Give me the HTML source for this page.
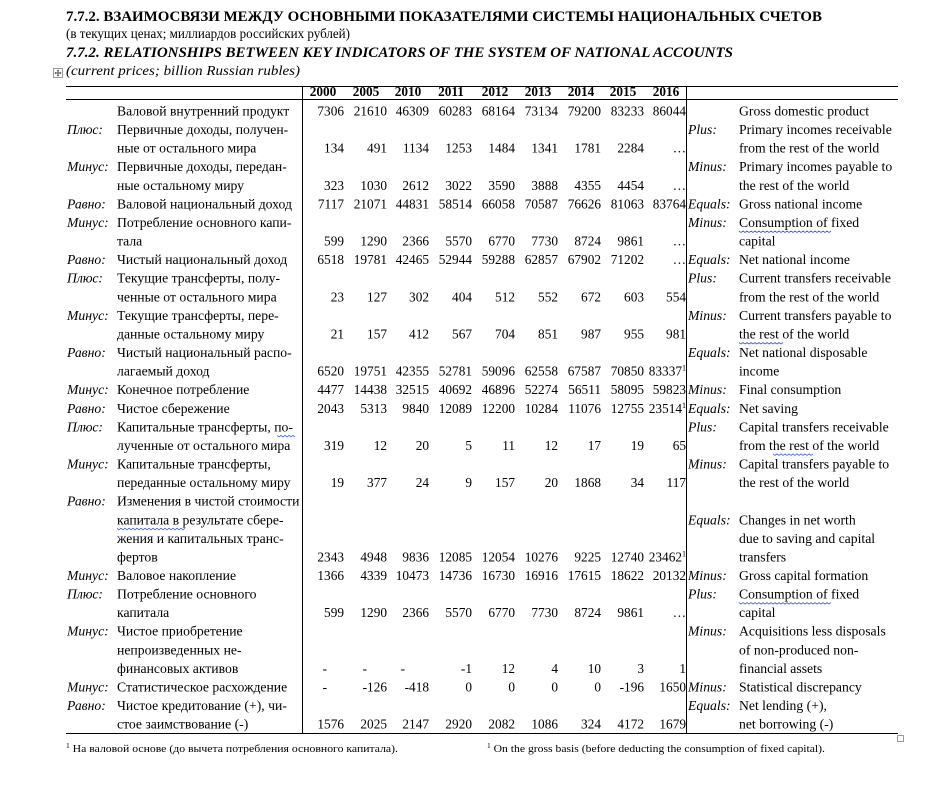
<!DOCTYPE html>
<html><head><meta charset="utf-8"><style>
html,body{margin:0;padding:0;background:#fff;}
svg{display:block;}
text{font-family:"Liberation Serif","Noto Serif CJK SC",serif;fill:#000;}
.t{font-size:13.7px;}
.n{font-size:13.3px;text-anchor:end;}
.i{font-style:italic;font-size:13.7px;}
.h{font-weight:bold;font-size:13.3px;text-anchor:middle;}
.f{font-size:11px;}
.w{fill:none;stroke:#3d5fd6;stroke-width:0.8;}
</style></head><body>
<svg width="946" height="789" viewBox="0 0 946 789" xmlns="http://www.w3.org/2000/svg">
<!-- titles -->
<text x="66" y="21" font-weight="bold" font-size="14.7" textLength="756" lengthAdjust="spacingAndGlyphs">7.7.2. ВЗАИМОСВЯЗИ МЕЖДУ ОСНОВНЫМИ ПОКАЗАТЕЛЯМИ СИСТЕМЫ НАЦИОНАЛЬНЫХ СЧЕТОВ</text>
<text x="66" y="38" font-size="13.3" textLength="284" lengthAdjust="spacingAndGlyphs">(в текущих ценах; миллиардов российских рублей)</text>
<text x="66" y="57" font-weight="bold" font-style="italic" font-size="14.7" textLength="667" lengthAdjust="spacingAndGlyphs">7.7.2. RELATIONSHIPS BETWEEN KEY INDICATORS OF THE SYSTEM OF NATIONAL ACCOUNTS</text>
<text x="66" y="75" font-style="italic" font-size="13.3" textLength="234" lengthAdjust="spacingAndGlyphs">(current prices; billion Russian rubles)</text>
<!-- move handle -->
<rect x="53.5" y="68.5" width="9" height="9" fill="#fff" stroke="#999" stroke-width="1"/>
<path d="M58 70v6M55 73h6" stroke="#555" stroke-width="1"/>
<path d="M57 71l1-1 1 1M57 75l1 1 1-1M56 72l-1 1 1 1M60 72l1 1-1 1" stroke="#555" stroke-width="0.7" fill="none"/>
<!-- lines -->
<g stroke="#000" stroke-width="1">
<line x1="66" y1="86.5" x2="898" y2="86.5"/>
<line x1="66" y1="99.5" x2="898" y2="99.5"/>
<line x1="66" y1="733.5" x2="898" y2="733.5"/>
<line x1="302.5" y1="86" x2="302.5" y2="733"/>
<line x1="686.5" y1="86" x2="686.5" y2="733"/>
</g>
<rect x="897.5" y="735.5" width="6" height="6" fill="#fff" stroke="#999" stroke-width="1"/>
<!-- header -->
<text class="h" x="323" y="96">2000</text>
<text class="h" x="366" y="96">2005</text>
<text class="h" x="408" y="96">2010</text>
<text class="h" x="451" y="96">2011</text>
<text class="h" x="495" y="96">2012</text>
<text class="h" x="538" y="96">2013</text>
<text class="h" x="581" y="96">2014</text>
<text class="h" x="623" y="96">2015</text>
<text class="h" x="666" y="96">2016</text>

<!-- left labels -->
<g>
<text class="t" x="117" y="115.5">Валовой внутренний продукт</text>
<text class="i" x="67" y="134.1">Плюс:</text><text class="t" x="117" y="134.1">Первичные доходы, получен-</text>
<text class="t" x="117" y="152.7">ные от остального мира</text>
<text class="i" x="67" y="171.2">Минус:</text><text class="t" x="117" y="171.2">Первичные доходы, передан-</text>
<text class="t" x="117" y="189.8">ные остальному миру</text>
<text class="i" x="67" y="208.4">Равно:</text><text class="t" x="117" y="208.4">Валовой национальный доход</text>
<text class="i" x="67" y="227">Минус:</text><text class="t" x="117" y="227">Потребление основного капи-</text>
<text class="t" x="117" y="245.6">тала</text>
<text class="i" x="67" y="264.1">Равно:</text><text class="t" x="117" y="264.1">Чистый национальный доход</text>
<text class="i" x="67" y="282.7">Плюс:</text><text class="t" x="117" y="282.7">Текущие трансферты, полу-</text>
<text class="t" x="117" y="301.3">ченные от остального мира</text>
<text class="i" x="67" y="319.9">Минус:</text><text class="t" x="117" y="319.9">Текущие трансферты, пере-</text>
<text class="t" x="117" y="338.5">данные остальному миру</text>
<text class="i" x="67" y="357">Равно:</text><text class="t" x="117" y="357">Чистый национальный распо-</text>
<text class="t" x="117" y="375.6">лагаемый доход</text>
<text class="i" x="67" y="394.2">Минус:</text><text class="t" x="117" y="394.2">Конечное потребление</text>
<text class="i" x="67" y="412.8">Равно:</text><text class="t" x="117" y="412.8">Чистое сбережение</text>
<text class="i" x="67" y="431.4">Плюс:</text><text class="t" x="117" y="431.4">Капитальные трансферты, по-</text>
<text class="t" x="117" y="449.9">лученные от остального мира</text>
<text class="i" x="67" y="468.5">Минус:</text><text class="t" x="117" y="468.5">Капитальные трансферты,</text>
<text class="t" x="117" y="487.1">переданные остальному миру</text>
<text class="i" x="67" y="505.7">Равно:</text><text class="t" x="117" y="505.7">Изменения в чистой стоимости</text>
<text class="t" x="117" y="524.3">капитала  в результате сбере-</text>
<text class="t" x="117" y="542.8">жения и капитальных транс-</text>
<text class="t" x="117" y="561.4">фертов</text>
<text class="i" x="67" y="580">Минус:</text><text class="t" x="117" y="580">Валовое накопление</text>
<text class="i" x="67" y="598.6">Плюс:</text><text class="t" x="117" y="598.6">Потребление основного</text>
<text class="t" x="117" y="617.2">капитала</text>
<text class="i" x="67" y="635.7">Минус:</text><text class="t" x="117" y="635.7">Чистое приобретение</text>
<text class="t" x="117" y="654.3">непроизведенных не-</text>
<text class="t" x="117" y="672.9">финансовых активов</text>
<text class="i" x="67" y="691.5">Минус:</text><text class="t" x="117" y="691.5">Статистическое расхождение</text>
<text class="i" x="67" y="710.1">Равно:</text><text class="t" x="117" y="710.1">Чистое кредитование (+), чи-</text>
<text class="t" x="117" y="728.6">стое заимствование (-)</text>
</g>

<!-- right labels -->
<g>
<text class="t" x="739" y="115.5">Gross domestic product</text>
<text class="i" x="688" y="134.1">Plus:</text><text class="t" x="739" y="134.1">Primary incomes receivable</text>
<text class="t" x="739" y="152.7">from the rest of the world</text>
<text class="i" x="688" y="171.2">Minus:</text><text class="t" x="739" y="171.2">Primary incomes payable to</text>
<text class="t" x="739" y="189.8">the rest of the world</text>
<text class="i" x="688" y="208.4">Equals:</text><text class="t" x="739" y="208.4">Gross national income</text>
<text class="i" x="688" y="227">Minus:</text><text class="t" x="739" y="227">Consumption  of fixed</text>
<text class="t" x="739" y="245.6">capital</text>
<text class="i" x="688" y="264.1">Equals:</text><text class="t" x="739" y="264.1">Net national income</text>
<text class="i" x="688" y="282.7">Plus:</text><text class="t" x="739" y="282.7">Current transfers receivable</text>
<text class="t" x="739" y="301.3">from the rest of the world</text>
<text class="i" x="688" y="319.9">Minus:</text><text class="t" x="739" y="319.9">Current transfers payable to</text>
<text class="t" x="739" y="338.5">the  rest of the world</text>
<text class="i" x="688" y="357">Equals:</text><text class="t" x="739" y="357">Net national disposable</text>
<text class="t" x="739" y="375.6">income</text>
<text class="i" x="688" y="394.2">Minus:</text><text class="t" x="739" y="394.2">Final consumption</text>
<text class="i" x="688" y="412.8">Equals:</text><text class="t" x="739" y="412.8">Net saving</text>
<text class="i" x="688" y="431.4">Plus:</text><text class="t" x="739" y="431.4">Capital transfers receivable</text>
<text class="t" x="739" y="449.9">from the  rest of the world</text>
<text class="i" x="688" y="468.5">Minus:</text><text class="t" x="739" y="468.5">Capital transfers payable to</text>
<text class="t" x="739" y="487.1">the rest of the world</text>
<text class="i" x="688" y="524.3">Equals:</text><text class="t" x="739" y="524.3">Changes in net worth</text>
<text class="t" x="739" y="542.8">due to saving and capital</text>
<text class="t" x="739" y="561.4">transfers</text>
<text class="i" x="688" y="580">Minus:</text><text class="t" x="739" y="580">Gross capital formation</text>
<text class="i" x="688" y="598.6">Plus:</text><text class="t" x="739" y="598.6">Consumption  of fixed</text>
<text class="t" x="739" y="617.2">capital</text>
<text class="i" x="688" y="635.7">Minus:</text><text class="t" x="739" y="635.7">Acquisitions less disposals</text>
<text class="t" x="739" y="654.3">of non-produced non-</text>
<text class="t" x="739" y="672.9">financial assets</text>
<text class="i" x="688" y="691.5">Minus:</text><text class="t" x="739" y="691.5">Statistical discrepancy</text>
<text class="i" x="688" y="710.1">Equals:</text><text class="t" x="739" y="710.1">Net lending (+),</text>
<text class="t" x="739" y="728.6">net borrowing (-)</text>
</g>

<!-- wavy underlines -->
<path class="w" d="M739 231l2 1.5 2-1.5 2 1.5 2-1.5 2 1.5 2-1.5 2 1.5 2-1.5 2 1.5 2-1.5 2 1.5 2-1.5 2 1.5 2-1.5 2 1.5 2-1.5 2 1.5 2-1.5 2 1.5 2-1.5 2 1.5 2-1.5 2 1.5 2-1.5 2 1.5 2-1.5 2 1.5 2-1.5 2 1.5 2-1.5 2 1.5 2-1.5 2 1.5 2-1.5 2 1.5 2-1.5 2 1.5 2-1.5 2 1.5 2-1.5 2 1.5 2-1.5 2 1.5 2-1.5 2 1.5 2-1.5"/>
<path class="w" d="M739 602.6l2 1.5 2-1.5 2 1.5 2-1.5 2 1.5 2-1.5 2 1.5 2-1.5 2 1.5 2-1.5 2 1.5 2-1.5 2 1.5 2-1.5 2 1.5 2-1.5 2 1.5 2-1.5 2 1.5 2-1.5 2 1.5 2-1.5 2 1.5 2-1.5 2 1.5 2-1.5 2 1.5 2-1.5 2 1.5 2-1.5 2 1.5 2-1.5 2 1.5 2-1.5 2 1.5 2-1.5 2 1.5 2-1.5 2 1.5 2-1.5 2 1.5 2-1.5 2 1.5 2-1.5 2 1.5 2-1.5"/>
<path class="w" d="M739 342.5l2 1.5 2-1.5 2 1.5 2-1.5 2 1.5 2-1.5 2 1.5 2-1.5 2 1.5 2-1.5 2 1.5 2-1.5 2 1.5 2-1.5 2 1.5 2-1.5 2 1.5 2-1.5 2 1.5 2-1.5 2 1.5 2-1.5"/>
<path class="w" d="M773 453.9l2 1.5 2-1.5 2 1.5 2-1.5 2 1.5 2-1.5 2 1.5 2-1.5 2 1.5 2-1.5 2 1.5 2-1.5 2 1.5 2-1.5 2 1.5 2-1.5 2 1.5 2-1.5 2 1.5 2-1.5"/>
<path class="w" d="M277 435.4l2 1.5 2-1.5 2 1.5 2-1.5 2 1.5 2-1.5 2 1.5 2-1.5 2 1.5"/>
<path class="w" d="M117 528.3l2 1.5 2-1.5 2 1.5 2-1.5 2 1.5 2-1.5 2 1.5 2-1.5 2 1.5 2-1.5 2 1.5 2-1.5 2 1.5 2-1.5 2 1.5 2-1.5 2 1.5 2-1.5 2 1.5 2-1.5 2 1.5 2-1.5 2 1.5 2-1.5 2 1.5 2-1.5 2 1.5 2-1.5 2 1.5 2-1.5 2 1.5 2-1.5 2 1.5 2-1.5"/>

<!-- numbers -->
<g>
<g transform="translate(0,115.5)"><text class="n" x="344">7306</text><text class="n" x="387">21610</text><text class="n" x="429">46309</text><text class="n" x="472">60283</text><text class="n" x="515">68164</text><text class="n" x="558">73134</text><text class="n" x="601">79200</text><text class="n" x="644">83233</text><text class="n" x="686">86044</text></g>
<g transform="translate(0,152.7)"><text class="n" x="344">134</text><text class="n" x="387">491</text><text class="n" x="429">1134</text><text class="n" x="472">1253</text><text class="n" x="515">1484</text><text class="n" x="558">1341</text><text class="n" x="601">1781</text><text class="n" x="644">2284</text><text class="n" x="686">…</text></g>
<g transform="translate(0,189.8)"><text class="n" x="344">323</text><text class="n" x="387">1030</text><text class="n" x="429">2612</text><text class="n" x="472">3022</text><text class="n" x="515">3590</text><text class="n" x="558">3888</text><text class="n" x="601">4355</text><text class="n" x="644">4454</text><text class="n" x="686">…</text></g>
<g transform="translate(0,208.4)"><text class="n" x="344">7117</text><text class="n" x="387">21071</text><text class="n" x="429">44831</text><text class="n" x="472">58514</text><text class="n" x="515">66058</text><text class="n" x="558">70587</text><text class="n" x="601">76626</text><text class="n" x="644">81063</text><text class="n" x="686">83764</text></g>
<g transform="translate(0,245.6)"><text class="n" x="344">599</text><text class="n" x="387">1290</text><text class="n" x="429">2366</text><text class="n" x="472">5570</text><text class="n" x="515">6770</text><text class="n" x="558">7730</text><text class="n" x="601">8724</text><text class="n" x="644">9861</text><text class="n" x="686">…</text></g>
<g transform="translate(0,264.1)"><text class="n" x="344">6518</text><text class="n" x="387">19781</text><text class="n" x="429">42465</text><text class="n" x="472">52944</text><text class="n" x="515">59288</text><text class="n" x="558">62857</text><text class="n" x="601">67902</text><text class="n" x="644">71202</text><text class="n" x="686">…</text></g>
<g transform="translate(0,301.3)"><text class="n" x="344">23</text><text class="n" x="387">127</text><text class="n" x="429">302</text><text class="n" x="472">404</text><text class="n" x="515">512</text><text class="n" x="558">552</text><text class="n" x="601">672</text><text class="n" x="644">603</text><text class="n" x="686">554</text></g>
<g transform="translate(0,338.5)"><text class="n" x="344">21</text><text class="n" x="387">157</text><text class="n" x="429">412</text><text class="n" x="472">567</text><text class="n" x="515">704</text><text class="n" x="558">851</text><text class="n" x="601">987</text><text class="n" x="644">955</text><text class="n" x="686">981</text></g>
<g transform="translate(0,375.6)"><text class="n" x="344">6520</text><text class="n" x="387">19751</text><text class="n" x="429">42355</text><text class="n" x="472">52781</text><text class="n" x="515">59096</text><text class="n" x="558">62558</text><text class="n" x="601">67587</text><text class="n" x="644">70850</text><text class="n" x="686">83337<tspan font-size="8" dy="-5">1</tspan></text></g>
<g transform="translate(0,394.2)"><text class="n" x="344">4477</text><text class="n" x="387">14438</text><text class="n" x="429">32515</text><text class="n" x="472">40692</text><text class="n" x="515">46896</text><text class="n" x="558">52274</text><text class="n" x="601">56511</text><text class="n" x="644">58095</text><text class="n" x="686">59823</text></g>
<g transform="translate(0,412.8)"><text class="n" x="344">2043</text><text class="n" x="387">5313</text><text class="n" x="429">9840</text><text class="n" x="472">12089</text><text class="n" x="515">12200</text><text class="n" x="558">10284</text><text class="n" x="601">11076</text><text class="n" x="644">12755</text><text class="n" x="686">23514<tspan font-size="8" dy="-5">1</tspan></text></g>
<g transform="translate(0,449.9)"><text class="n" x="344">319</text><text class="n" x="387">12</text><text class="n" x="429">20</text><text class="n" x="472">5</text><text class="n" x="515">11</text><text class="n" x="558">12</text><text class="n" x="601">17</text><text class="n" x="644">19</text><text class="n" x="686">65</text></g>
<g transform="translate(0,487.1)"><text class="n" x="344">19</text><text class="n" x="387">377</text><text class="n" x="429">24</text><text class="n" x="472">9</text><text class="n" x="515">157</text><text class="n" x="558">20</text><text class="n" x="601">1868</text><text class="n" x="644">34</text><text class="n" x="686">117</text></g>
<g transform="translate(0,561.4)"><text class="n" x="344">2343</text><text class="n" x="387">4948</text><text class="n" x="429">9836</text><text class="n" x="472">12085</text><text class="n" x="515">12054</text><text class="n" x="558">10276</text><text class="n" x="601">9225</text><text class="n" x="644">12740</text><text class="n" x="686">23462<tspan font-size="8" dy="-5">1</tspan></text></g>
<g transform="translate(0,580)"><text class="n" x="344">1366</text><text class="n" x="387">4339</text><text class="n" x="429">10473</text><text class="n" x="472">14736</text><text class="n" x="515">16730</text><text class="n" x="558">16916</text><text class="n" x="601">17615</text><text class="n" x="644">18622</text><text class="n" x="686">20132</text></g>
<g transform="translate(0,617.2)"><text class="n" x="344">599</text><text class="n" x="387">1290</text><text class="n" x="429">2366</text><text class="n" x="472">5570</text><text class="n" x="515">6770</text><text class="n" x="558">7730</text><text class="n" x="601">8724</text><text class="n" x="644">9861</text><text class="n" x="686">…</text></g>
<g transform="translate(0,672.9)"><text class="n" x="327">-</text><text class="n" x="367">-</text><text class="n" x="405">-</text><text class="n" x="472">-1</text><text class="n" x="515">12</text><text class="n" x="558">4</text><text class="n" x="601">10</text><text class="n" x="644">3</text><text class="n" x="686">1</text></g>
<g transform="translate(0,691.5)"><text class="n" x="327">-</text><text class="n" x="387">-126</text><text class="n" x="429">-418</text><text class="n" x="472">0</text><text class="n" x="515">0</text><text class="n" x="558">0</text><text class="n" x="601">0</text><text class="n" x="644">-196</text><text class="n" x="686">1650</text></g>
<g transform="translate(0,728.6)"><text class="n" x="344">1576</text><text class="n" x="387">2025</text><text class="n" x="429">2147</text><text class="n" x="472">2920</text><text class="n" x="515">2082</text><text class="n" x="558">1086</text><text class="n" x="601">324</text><text class="n" x="644">4172</text><text class="n" x="686">1679</text></g>
</g>

<!-- footnotes -->
<text class="f" x="66" y="752" textLength="332" lengthAdjust="spacingAndGlyphs"><tspan font-size="7" dy="-4">1</tspan><tspan dy="4"> На валовой основе (до вычета потребления основного капитала).</tspan></text>
<text class="f" x="487" y="752" textLength="338" lengthAdjust="spacingAndGlyphs"><tspan font-size="7" dy="-4">1</tspan><tspan dy="4"> On the gross basis (before deducting the consumption of fixed capital).</tspan></text>
</svg>
</body></html>
